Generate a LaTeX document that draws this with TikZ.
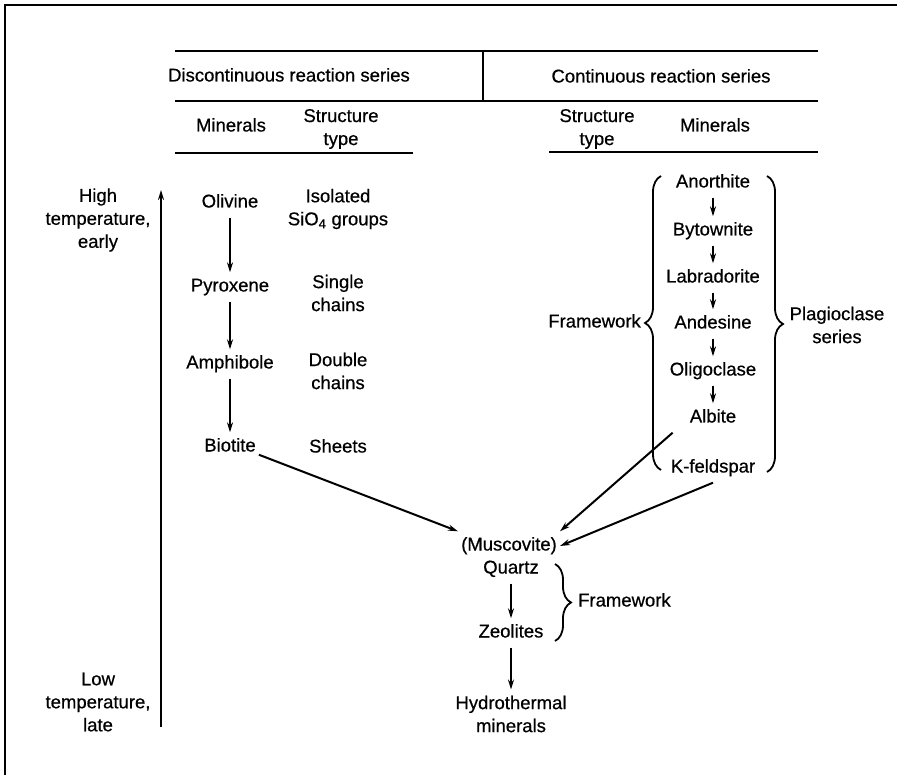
\documentclass[tikz,border=0pt]{standalone}
\usepackage{fontspec}
\setmainfont{Liberation Sans}[FakeBold=0.6]
\usetikzlibrary{arrows.meta,decorations.pathreplacing}
\begin{document}
\begin{tikzpicture}[x=1pt,y=-1pt,
  txt/.style={font=\fontsize{18.5}{23}\selectfont, align=center, inner xsep=3pt, inner ysep=6pt, text height=13pt, text depth=4pt},
  txtm/.style={font=\fontsize{18.5}{23}\selectfont, align=center, inner xsep=3pt, inner ysep=6pt},
  rule/.style={line width=2.2pt},
  arr/.style={line width=2pt, -{Stealth[length=10pt,width=6pt]}},
  brc/.style={line width=1.8pt, decorate, decoration={brace, amplitude=16pt}},
  frame/.style={line width=1.2pt}]
\useasboundingbox (0,0) rectangle (897,775);
% frame (top and left edges)
\draw[frame] (5,775) -- (5,5) -- (897,5);
% header
\node[txt] (tdis) at (289,77) {Discontinuous reaction series};
\node[txt] (tcon) at (661,78) {Continuous reaction series};
\node[txt] (lmin) at (231,127) {Minerals};
\node[txtm] (lstr) at (341,129) {Structure\\type};
\node[txtm] (rstr) at (597,129) {Structure\\type};
\node[txt] (rmin) at (715,127) {Minerals};
\draw[rule] (175,51) -- (818,51);
\draw[rule] (483,51) -- (483,101);
\draw[rule] (175,101) -- (818,101);
\draw[rule] (175,153) -- (413,153);
\draw[rule] (549,152) -- (818,152);
% temperature axis
\node[txtm] (high) at (98,220) {High\\temperature,\\early};
\node[txtm] (low) at (98,702) {Low\\temperature,\\late};
\coordinate (axbot) at (161,727);
\coordinate (axtop) at (161,190);
\draw[arr] (axbot) -- (axtop);
% discontinuous series
\node[txt] (oli) at (230,203) {Olivine};
\node[txt] (pyr) at (230,287) {Pyroxene};
\node[txt] (amp) at (230,364) {Amphibole};
\node[txt] (bio) at (230,447) {Biotite};
\node[txtm] (iso) at (338,209) {Isolated\\SiO\textsubscript{4} groups};
\node[txtm] (sgl) at (338,293) {Single\\chains};
\node[txtm] (dbl) at (338,371) {Double\\chains};
\node[txt] (sht) at (338,448) {Sheets};
\draw[arr] (oli) -- (pyr);
\draw[arr] (pyr) -- (amp);
\draw[arr] (amp) -- (bio);
% continuous series
\node[txt] (ano) at (713,183) {Anorthite};
\node[txt] (byt) at (713,231) {Bytownite};
\node[txt] (lab) at (713,278) {Labradorite};
\node[txt] (and) at (713,324) {Andesine};
\node[txt] (olg) at (713,371) {Oligoclase};
\node[txt] (alb) at (713,418) {Albite};
\node[txt] (kfs) at (713,468) {K-feldspar};
\draw[arr] (ano) -- (byt);
\draw[arr] (byt) -- (lab);
\draw[arr] (lab) -- (and);
\draw[arr] (and) -- (olg);
\draw[arr] (olg) -- (alb);
\draw[brc] (661,470) -- (661,176);
\draw[brc] (767,176) -- (767,472);
\node[txt, anchor=east, inner xsep=0pt] (fw1) at (641,323) {Framework};
\node[txtm] (plag) at (837,325) {Plagioclase\\series};
% lower part
\node[txt] (mus) at (509,546) {(Muscovite)};
\node[txt] (qtz) at (511,569) {Quartz};
\node[txt] (zeo) at (511,633) {Zeolites};
\node[txtm] (hyd) at (511,714) {Hydrothermal\\minerals};
\draw[arr] (qtz) -- (zeo);
\draw[arr] (zeo) -- (hyd);
\draw[brc] (555,564) -- (555,641);
\node[txt, anchor=west, inner xsep=0pt] (fw2) at (578,602) {Framework};
% converging arrows
\draw[arr] (bio.-15) -- (mus.north west);
\draw[arr] ([xshift=-14pt]alb.south west) -- (mus.north east);
\draw[arr] (kfs.south) -- (mus.east);
\end{tikzpicture}
\end{document}
